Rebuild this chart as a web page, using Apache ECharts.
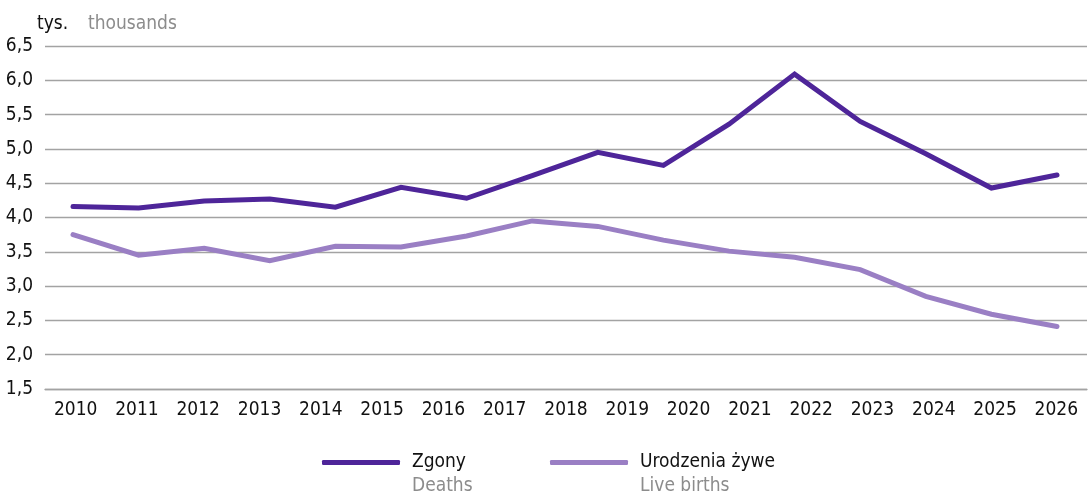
<!DOCTYPE html>
<html><head><meta charset="utf-8">
<script src="https://cdn.jsdelivr.net/npm/echarts@6/dist/echarts.min.js"></script>
<style>html,body{margin:0;padding:0;background:#fff}#c{width:1092px;height:498px}</style>
</head><body><div id="c"></div>
<script>
const yearLabels = ['2010','2011','2012','2013','2014','2015','2016','2017','2018','2019','2020','2021','2022','2023','2024','2025','2026'];
const pointIndex = ['p0','p1','p2','p3','p4','p5','p6','p7','p8','p9','p10','p11','p12','p13','p14','p15'];
const deaths = [4.16, 4.14, 4.24, 4.27, 4.15, 4.44, 4.28, 4.61, 4.95, 4.76, 5.36, 6.09, 5.40, 4.93, 4.43, 4.62];
const births = [3.75, 3.45, 3.55, 3.37, 3.58, 3.57, 3.73, 3.95, 3.87, 3.67, 3.51, 3.42, 3.24, 2.85, 2.59, 2.41];
const yTicks = {min: 1.5, max: 6.5, interval: 0.5};

const FONT = "'Liberation Sans Narrow','DejaVu Sans Condensed','Roboto Condensed',sans-serif";
const DARK = '#4e2599';
const LIGHT = '#9a7fc4';
const GRID = '#a3a3a3';

const chart = echarts.init(document.getElementById('c'), null, {renderer:'canvas'});
chart.setOption({
  animation:false,
  backgroundColor:'#fff',
  textStyle:{fontFamily:FONT},
  grid:[
    {left:45, right:5, top:46, bottom:109},
    {left:73, right:35, top:46, bottom:109}
  ],
  xAxis:[
    {gridIndex:0, type:'category', data:yearLabels, boundaryGap:true,
     axisLine:{show:true, lineStyle:{color:GRID, width:1.3}}, axisTick:{show:false},
     axisLabel:{color:'#111', fontSize:19, fontFamily:FONT, margin:12}},
    {gridIndex:1, type:'category', data:pointIndex, boundaryGap:false, show:false}
  ],
  yAxis:[
    {gridIndex:0, type:'value', min:yTicks.min, max:yTicks.max, interval:yTicks.interval,
     axisLine:{show:false}, axisTick:{show:false},
     splitLine:{lineStyle:{color:GRID, width:1.3}},
     axisLabel:{color:'#111', fontSize:19, fontFamily:FONT, margin:12,
       formatter:v=>v.toFixed(1).replace('.',',')}},
    {gridIndex:1, type:'value', min:yTicks.min, max:yTicks.max, interval:yTicks.interval, show:false}
  ],
  legend:[
    {left:322, top:453, padding:0, itemWidth:78, itemHeight:5, icon:'roundRect', data:['Zgony'],
     textStyle:{color:'#111', fontSize:19, fontFamily:FONT, padding:[0,0,0,7]}},
    {left:550, top:453, padding:0, itemWidth:78, itemHeight:5, icon:'roundRect', data:['Urodzenia żywe'],
     textStyle:{color:'#111', fontSize:19, fontFamily:FONT, padding:[0,0,0,7]}}
  ],
  graphic:[
    {type:'text', left:37, top:15, style:{text:'tys.', fill:'#111', font:'19px '+FONT}},
    {type:'text', left:88, top:15, style:{text:'thousands', fill:'#8c8c8c', font:'19px '+FONT}},
    {type:'text', left:412, top:477, style:{text:'Deaths', fill:'#8c8c8c', font:'19px '+FONT}},
    {type:'text', left:640, top:477, style:{text:'Live births', fill:'#8c8c8c', font:'19px '+FONT}}
  ],
  series:[
    {name:'Zgony', type:'line', xAxisIndex:1, yAxisIndex:1, data:deaths, symbol:'none',
     lineStyle:{color:DARK, width:5, cap:'round', join:'miter'}, itemStyle:{color:DARK}},
    {name:'Urodzenia żywe', type:'line', xAxisIndex:1, yAxisIndex:1, data:births, symbol:'none',
     lineStyle:{color:LIGHT, width:5, cap:'round', join:'miter'}, itemStyle:{color:LIGHT}}
  ]
});
</script></body></html>
